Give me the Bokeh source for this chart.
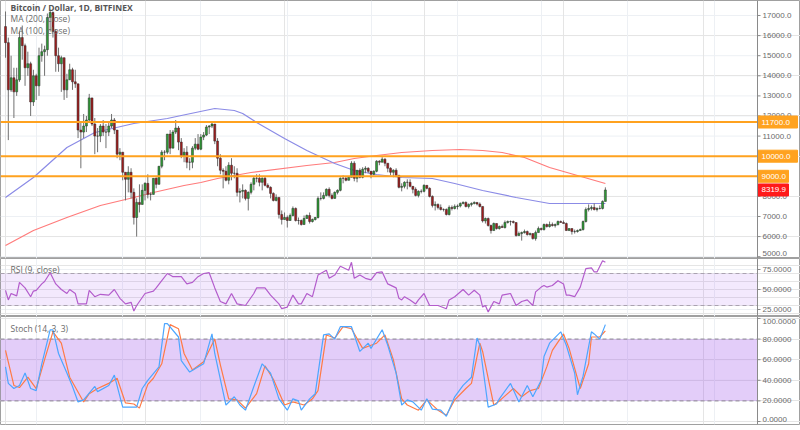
from bokeh.plotting import figure
from bokeh.layouts import column
from bokeh.models import (ColumnDataSource, Range1d, FixedTicker, Grid, Span, BoxAnnotation, Label)
from bokeh.core.properties import value
from bokeh.embed import file_html
from bokeh.resources import INLINE

# ---------------- data (day 0 = 2017-12-21, day 215 = 2018-07-24) ----------------
first_open = 16450
closes = [
    15650, 13300, 13900, 13200, 13800, 15900, 15500, 14400, 14600, 12700,
    14000, 13500, 15000, 15200, 15300, 16900, 17150, 16200, 15000, 14600,
    14900, 13300, 13800, 14300, 13700, 13600, 11300, 11200, 11500, 11800,
    12900, 11600, 11000, 11000, 11500, 11200, 11200, 11500, 11800, 11300,
    10100, 10200, 9200, 8850, 9200, 8200, 6950, 7700, 7600, 8300,
    8650, 8100, 8100, 8900, 8600, 9500, 10200, 10200, 11100, 10400,
    11200, 11400, 10700, 10000, 10200, 9700, 9700, 10400, 10600, 10350,
    10950, 11050, 11450, 11500, 11600, 10750, 9900, 9300, 9250, 8800,
    9550, 9150, 9150, 8200, 8250, 8300, 7900, 8200, 8600, 8900,
    8900, 8700, 8900, 8550, 8450, 8150, 7800, 7950, 7100, 6850,
    6950, 6800, 7050, 7400, 6800, 6800, 6600, 6900, 7050, 6750,
    6850, 6950, 7900, 7900, 8050, 8350, 8050, 7900, 8200, 8300,
    8900, 8900, 8800, 8950, 9650, 8900, 9300, 8950, 9350, 9400,
    9250, 9100, 9250, 9750, 9700, 9850, 9650, 9400, 9200, 9300,
    9050, 8450, 8500, 8700, 8700, 8500, 8350, 8050, 8250, 8250,
    8550, 8400, 8000, 7550, 7600, 7450, 7350, 7350, 7100, 7450,
    7400, 7500, 7520, 7650, 7700, 7500, 7600, 7650, 7700, 7620,
    7500, 6780, 6900, 6550, 6300, 6650, 6400, 6500, 6450, 6700,
    6750, 6750, 6700, 6050, 6150, 6200, 6250, 6100, 6150, 5900,
    6200, 6400, 6350, 6600, 6500, 6600, 6550, 6600, 6750, 6700,
    6650, 6300, 6400, 6250, 6250, 6300, 6350, 6750, 7350, 7400,
    7450, 7350, 7400, 7400, 7750, 8320,
]
highs = [
    17200, 15900, 15000, 14400, 14400, 16200, 16500, 15600, 15200, 14700,
    14300, 14100, 15400, 15600, 15500, 17100, 17300, 17200, 16300, 15400,
    15000, 14900, 14100, 14600, 14400, 14300, 13600, 11700, 12100, 12000,
    13100, 12900, 11900, 11400, 11600, 11800, 11600, 11700, 12100, 11900,
    11300, 10400, 10200, 9200, 9500, 9400, 8400, 7900, 8600, 8600,
    8700, 9100, 8200, 8900, 8950, 9500, 10300, 10300, 11100, 11300,
    11300, 11800, 11500, 10900, 10400, 10500, 9900, 10500, 10900, 11100,
    11100, 11200, 11550, 11550, 11700, 11600, 10900, 10100, 9400, 9500,
    9700, 9900, 9500, 9400, 8400, 8600, 8350, 8250, 8700, 9000,
    9100, 9100, 8950, 9000, 8650, 8500, 8200, 8100, 7950, 7300,
    7200, 7050, 7150, 7500, 7450, 6950, 6850, 7050, 7100, 7200,
    6900, 6980, 8000, 8200, 8200, 8400, 8450, 8150, 8250, 8350,
    8950, 9050, 9000, 9000, 9750, 9750, 9300, 9400, 9450, 9500,
    9450, 9250, 9300, 9800, 9800, 9950, 9900, 9650, 9450, 9350,
    9400, 9050, 8650, 8750, 8850, 8850, 8500, 8450, 8300, 8350,
    8600, 8550, 8450, 8050, 7750, 7650, 7600, 7400, 7400, 7550,
    7550, 7600, 7600, 7700, 7750, 7750, 7650, 7700, 7750, 7700,
    7700, 7500, 6950, 6950, 6600, 6700, 6650, 6550, 6600, 6800,
    6800, 6800, 6800, 6700, 6250, 6250, 6350, 6300, 6200, 6150,
    6300, 6500, 6450, 6650, 6650, 6750, 6700, 6650, 6800, 6800,
    6800, 6700, 6400, 6400, 6350, 6350, 6400, 6800, 7450, 7600,
    7550, 7650, 7450, 7550, 7800, 8450,
]
lows = [
    14900, 10800, 13200, 11900, 13000, 13700, 14800, 13500, 14000, 12000,
    12500, 12800, 13000, 14700, 14000, 15000, 16200, 15900, 14200, 14200,
    13200, 12800, 12900, 13800, 13300, 13400, 10900, 9400, 10900, 11200,
    11700, 11500, 10100, 10200, 10700, 11000, 10400, 11000, 11400, 11100,
    9900, 9800, 8800, 7800, 8200, 7900, 6600, 6000, 7200, 7600,
    7800, 7900, 7800, 8100, 8400, 8600, 9400, 9800, 10100, 10100,
    10400, 11100, 10300, 9900, 9700, 9400, 9300, 9400, 10300, 10300,
    10300, 10800, 11000, 11100, 11400, 10600, 9500, 9100, 8400, 8750,
    8600, 8800, 8900, 8000, 7700, 7900, 7800, 7300, 8100, 8300,
    8700, 8500, 8300, 8500, 8400, 7900, 7750, 7750, 6900, 6600,
    6850, 6450, 6800, 7000, 6750, 6600, 6550, 6600, 6900, 6650,
    6700, 6800, 6900, 7800, 7850, 8000, 7950, 7850, 7900, 8100,
    8250, 8650, 8750, 8800, 8950, 8750, 8700, 8900, 8900, 9150,
    9150, 8900, 9050, 9200, 9550, 9700, 9500, 9200, 9050, 8950,
    9000, 8400, 8250, 8400, 8350, 8450, 8150, 8000, 7950, 8150,
    8200, 8350, 7950, 7450, 7300, 7350, 7300, 7250, 7050, 7050,
    7300, 7350, 7350, 7450, 7600, 7450, 7400, 7500, 7600, 7550,
    7450, 6700, 6650, 6500, 6150, 6300, 6350, 6350, 6450, 6400,
    6650, 6550, 6650, 6000, 6050, 5800, 6150, 6050, 6050, 5850,
    5800, 6200, 6300, 6300, 6450, 6450, 6500, 6450, 6550, 6700,
    6650, 6300, 6300, 6100, 6150, 6200, 6300, 6300, 6700, 7250,
    7300, 7300, 7250, 7350, 7350, 7750,
]

# first day of each month (Jan .. Sep 2018) as day index
month_starts = [11, 42, 70, 101, 131, 162, 192, 223, 254]

ma200_day = [0, 10, 22, 34, 46, 53, 64, 70, 76, 82, 88, 108, 118, 125, 133, 142, 153, 163, 171, 178, 186, 195, 205, 215]
ma200_val = [5557, 6303, 6950, 7547, 7945, 8194, 8542, 8692, 8891, 9040, 9189, 9537, 9687, 9886,
             10035, 10184, 10284, 10333, 10284, 10184, 9935, 9438, 9040, 8642]
ma100_day = [0, 10, 22, 32, 46, 58, 63, 75, 82, 85, 90, 100, 108, 118, 125, 133, 142, 153, 161, 171, 183, 195, 205, 215]
ma100_val = [7945, 8940, 10433, 11179, 11627, 11876, 12025, 12373, 12274, 12124, 11677, 10880, 10284,
             9637, 9289, 9090, 8940, 8890, 8642, 8294, 7945, 7647, 7647, 7647]

levels = [11700, 10000, 9000]
last_price = 8319.9

rsi_day = [0, 1, 2, 4, 5, 7, 9, 10, 11, 13, 14, 16, 18, 20, 22, 23, 25, 26, 29, 30, 32, 34, 37, 39, 41, 43, 45,
           46, 47, 50, 53, 54, 56, 58, 59, 60, 63, 65, 67, 69, 71, 73, 75, 77, 79, 81, 83, 86, 89, 90, 93, 95,
           98, 99, 101, 103, 105, 106, 108, 110, 112, 115, 116, 118, 120, 123, 124, 125, 127, 129, 131, 133,
           135, 137, 140, 141, 142, 143, 145, 147, 148, 150, 152, 155, 158, 159, 161, 164, 166, 168, 170, 171,
           172, 173, 175, 177, 178, 181, 183, 185, 187, 189, 190, 192, 193, 194, 196, 198, 200, 201, 202, 204,
           206, 208, 210, 211, 212, 214, 215]
rsi_val = [49, 37, 45, 42, 59, 52, 41, 48, 49, 57, 60, 71, 57, 50, 45, 50, 45, 32, 32, 49, 41, 44, 43, 50, 39, 32, 34,
           23, 30, 45, 48, 52, 61, 70, 68, 66, 66, 57, 59, 66, 70, 71, 52, 35, 32, 45, 32, 30, 45, 52, 52, 43,
           32, 26, 28, 43, 32, 32, 45, 41, 68, 74, 64, 68, 79, 74, 84, 64, 68, 64, 62, 71,
           72, 57, 52, 39, 37, 41, 37, 32, 37, 45, 30, 30, 26, 37, 41, 50, 43, 49, 43, 28,
           30, 22, 35, 32, 43, 45, 30, 35, 37, 30, 47, 53, 55, 53, 55, 61, 57, 43, 43, 41,
           53, 76, 77, 72, 72, 86, 84]

stk_day = [0, 1, 3, 5, 7, 9, 11, 13, 16, 17, 19, 22, 24, 26, 28, 32, 33, 37, 39, 42, 45, 47, 49, 51, 55, 57, 58,
           62, 63, 66, 69, 71, 74, 75, 79, 82, 84, 86, 89, 92, 95, 98, 101, 103, 105, 106, 109, 111, 114, 116,
           118, 120, 124, 127, 130, 131, 135, 137, 140, 142, 144, 146, 149, 151, 153, 156, 158, 161, 164, 167,
           169, 170, 173, 176, 177, 181, 184, 187, 189, 192, 193, 195, 199, 201, 204, 205, 207, 210, 211, 213,
           214, 215]
stk_val = [53, 37, 32, 35, 47, 32, 30, 56, 89, 89, 66, 47, 34, 19, 21, 34, 29, 35, 45, 14, 14, 14, 32, 40, 53, 95, 95,
           82, 59, 48, 53, 56, 85, 66, 16, 24, 16, 11, 34, 56, 47, 22, 11, 22, 20, 11, 22, 27, 84, 85,
           80, 92, 92, 68, 76, 71, 89, 74, 47, 16, 21, 19, 11, 22, 12, 11, 5, 24, 35, 43,
           81, 74, 14, 17, 22, 37, 19, 35, 24, 40, 63, 76, 87, 74, 47, 26, 44, 87, 85, 80,
           87, 94]

std_day = [0, 3, 5, 8, 11, 14, 17, 20, 23, 28, 30, 33, 37, 40, 43, 46, 48, 51, 53, 56, 59, 62, 64, 67, 71, 75, 77,
           80, 83, 86, 90, 93, 96, 100, 103, 107, 110, 112, 115, 118, 121, 124, 128, 131, 133, 136, 139, 142,
           144, 148, 151, 155, 158, 161, 165, 167, 170, 171, 175, 177, 182, 185, 188, 191, 194, 196, 200, 202,
           206, 209, 210, 213, 215]
std_val = [69, 35, 33, 43, 32, 60, 87, 76, 43, 19, 27, 32, 37, 42, 18, 17, 13, 36, 42, 56, 94, 90, 66, 50, 58, 80, 55,
           22, 21, 13, 27, 54, 41, 16, 19, 16, 22, 30, 84, 81, 92, 90, 71, 74, 76, 84, 60, 22,
           16, 11, 21, 11, 6, 21, 32, 37, 76, 68, 16, 20, 32, 24, 30, 32, 53, 69, 85, 71,
           32, 56, 82, 82, 88]

price_ticks = [5000, 6000, 7000, 8000, 9000, 10000, 11000, 12000, 13000, 14000, 15000, 16000, 17000]
covered_price_ticks = [9000, 10000]
rsi_ticks = [25, 50, 75]
rsi_band = [30, 70]
stoch_ticks = [0, 20, 40, 60, 80, 100]
stoch_band = [20, 80]

# ---------------- layout / styling ----------------
W = 800
PX_PER_DAY = 2.79
X0 = -1.8                          # data x at the left edge
AX = X0 + 757 / PX_PER_DAY         # data x of the right price scale line
x_range = Range1d(X0, X0 + W / PX_PER_DAY)
GRID = "#edf0f4"
AXIS_TXT = "#6a6a6a"
AXIS_LINE = "#8a8a8a"
FONT = "Liberation Sans"
TFONT = "Open Sans"
ORANGE = "#ffa21f"
AX_FS = "8px"


def make_fig(frame_h, y0, y1):
    p = figure(frame_width=W, frame_height=frame_h, x_range=x_range, y_range=Range1d(y0, y1),
               output_backend="svg", toolbar_location=None, x_axis_location=None,
               y_axis_location=None, min_border=0)
    p.outline_line_color = "#a0a0a0"
    p.outline_line_width = 1
    p.border_fill_color = "white"
    p.background_fill_color = "white"
    p.add_layout(Grid(dimension=0, ticker=FixedTicker(ticks=month_starts), grid_line_color=GRID))
    return p


def price_scale(p, ticks, labels, y_offsets):
    n = len(ticks)
    p.segment(x0=[X0] * n, x1=[AX] * n, y0=ticks, y1=ticks, line_color=GRID, line_width=1, level="underlay")
    p.add_layout(Span(location=AX, dimension="height", line_color=AXIS_LINE, line_width=1))
    p.segment(x0=[AX] * n, x1=[AX + 3 / PX_PER_DAY] * n, y0=ticks, y1=ticks, line_color=AXIS_LINE, line_width=1)
    p.text(x=[AX] * n, y=ticks, text=labels, x_offset=5, y_offset=y_offsets,
           text_font=value(FONT), text_font_size=AX_FS, text_color=AXIS_TXT,
           text_baseline="middle", text_align="left")


def hline(p, ys, color, width, dash="solid"):
    n = len(ys)
    p.segment(x0=[X0] * n, x1=[AX] * n, y0=ys, y1=ys, line_color=color, line_width=width, line_dash=dash)


def tag(p, y, text, color, box_px, frame_h, y0, y1):
    half = 6 * (y1 - y0) / frame_h
    p.quad(left=[AX], right=[AX + box_px / PX_PER_DAY], bottom=[y - half], top=[y + half],
           fill_color=color, line_color=color)
    p.text(x=[AX], y=[y], text=[text], x_offset=4, text_font=value(FONT), text_font_size=AX_FS,
           text_color="white", text_baseline="middle", text_align="left")


# ---------------- main price panel ----------------
MH, MY0, MY1 = 258, 4910, 17746
p = make_fig(MH, MY0, MY1)
shown = [t for t in price_ticks if t not in covered_price_ticks]
price_scale(p, shown, ["%.1f" % t for t in shown], [-3 if t == min(shown) else 0 for t in shown])

days = list(range(len(closes)))
opens = [first_open] + closes[:-1]
src = ColumnDataSource(dict(
    day=days, open=opens, close=closes, high=highs, low=lows,
    top=[max(o, c) for o, c in zip(opens, closes)],
    bottom=[min(o, c) for o, c in zip(opens, closes)],
    color=["#2f9e36" if c >= o else "#a31c1c" for o, c in zip(opens, closes)],
))

p.line(ma200_day, ma200_val, line_color="#ff7b7b", line_width=1.2)
p.line(ma100_day, ma100_val, line_color="#8b8be6", line_width=1.2)
p.segment(x0="day", y0="low", x1="day", y1="high", source=src, line_color="#707070", line_width=1)
p.vbar(x="day", width=0.72, top="top", bottom="bottom", fill_color="color",
       line_color="#2a2a2a", line_width=0.5, source=src)

hline(p, levels, ORANGE, 2)
for lv in levels:
    txt = "%.1f" % lv
    tag(p, lv, txt, ORANGE, 40 if len(txt) > 6 else 31, MH, MY0, MY1)
tag(p, last_price, "%.1f" % last_price, "#ff1a1a", 31, MH, MY0, MY1)

p.add_layout(Label(x=10, y=251, x_units="screen", y_units="screen", text="Bitcoin / Dollar, 1D, BITFINEX",
                   text_font=TFONT, text_font_size="8.5px", text_font_style="bold",
                   text_color="#555555", text_baseline="middle"))
p.add_layout(Label(x=10, y=240, x_units="screen", y_units="screen", text="MA (200, close)",
                   text_font=TFONT, text_font_size="8.5px", text_color="#6a6a6a", text_baseline="middle"))
p.add_layout(Label(x=10, y=228, x_units="screen", y_units="screen", text="MA (100, close)",
                   text_font=TFONT, text_font_size="8.5px", text_color="#6a6a6a", text_baseline="middle"))

# ---------------- RSI panel ----------------
RH, RY0, RY1 = 58, 16.25, 88.75
r = make_fig(RH, RY0, RY1)
r.add_layout(BoxAnnotation(left=X0, right=AX, bottom=rsi_band[0], top=rsi_band[1], fill_color="#a04ced",
                           fill_alpha=0.12, line_color=None, level="underlay"))
price_scale(r, rsi_ticks, ["%.4f" % t for t in rsi_ticks], [0] * len(rsi_ticks))
hline(r, rsi_band, "#aaa2b0", 1, "4 3")
r.line(rsi_day, rsi_val, line_color="#b35ccc", line_width=1.2)
r.add_layout(Label(x=10, y=47, x_units="screen", y_units="screen", text="RSI (9, close)",
                   text_font=TFONT, text_font_size="8.5px", text_color="#6a6a6a", text_baseline="middle"))

# ---------------- Stochastic panel ----------------
SH, SY0, SY1 = 108, -2.9, 101.9
s = make_fig(SH, SY0, SY1)
s.min_border_bottom = 4
s.add_layout(BoxAnnotation(left=X0, right=AX, bottom=stoch_band[0], top=stoch_band[1], fill_color="#9e52eb",
                           fill_alpha=0.29, line_color=None, level="underlay"))
price_scale(s, stoch_ticks, ["%.4f" % t for t in stoch_ticks],
            [-2 if t == min(stoch_ticks) else (3 if t == max(stoch_ticks) else 0) for t in stoch_ticks])
hline(s, stoch_band, "#8f8796", 1, "4 3")
s.line(std_day, std_val, line_color="#ff7a45", line_width=1.2)
s.line(stk_day, stk_val, line_color="#4da6ff", line_width=1.2)
s.add_layout(Label(x=10, y=96, x_units="screen", y_units="screen", text="Stoch (14, 3, 3)",
                   text_font=TFONT, text_font_size="8.5px", text_color="#6a6a6a", text_baseline="middle"))

layout = column(p, r, s, spacing=0)
open("out.html", "w").write(file_html(layout, INLINE))
